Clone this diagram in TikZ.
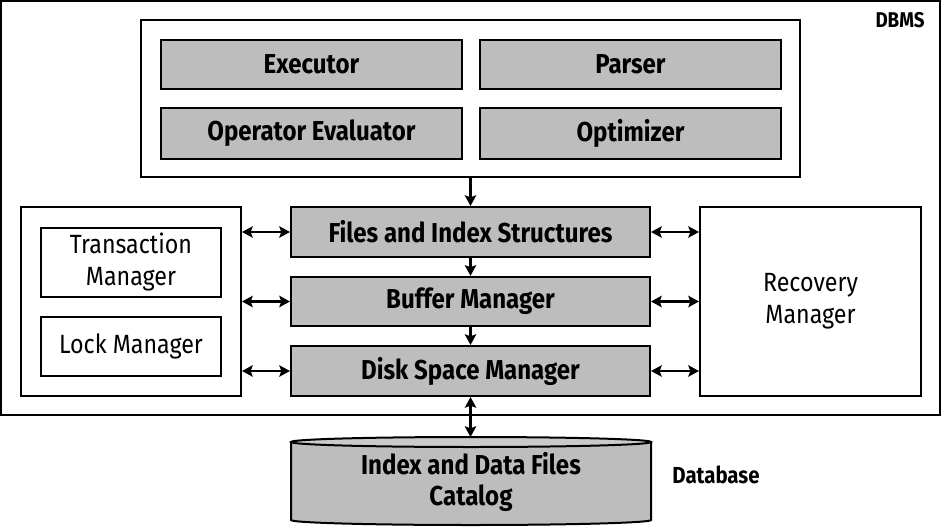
\documentclass[tikz,border=0pt]{standalone}
\usepackage{fontspec}
\setmainfont[FakeStretch=0.88]{Fira Sans}
\usetikzlibrary{arrows.meta}
\definecolor{boxgray}{HTML}{BDBDBD}
\begin{document}
\begin{tikzpicture}[x=0.75pt,y=-0.75pt,
  frame/.style={draw, line width=1.5pt, inner sep=0pt},
  graybox/.style={draw, line width=1.5pt, fill=boxgray, inner sep=0pt,
     font=\fontsize{20.5}{22}\selectfont\bfseries},
  whitebox/.style={draw, line width=1.5pt, fill=white, inner sep=0pt, align=center,
     font=\fontsize{19.8}{24}\selectfont},
  lbl/.style={inner sep=0pt, font=\fontsize{16}{18}\selectfont\bfseries},
  tip/.tip={Stealth[length=8pt,width=8.5pt,inset=1.5pt]},
  arr/.style={-tip, line width=1.8pt},
  darr/.style={tip-tip, line width=1.8pt}]
\useasboundingbox (0,0) rectangle (941,531);
% outer DBMS frame
\node[frame, minimum width=704.25pt, minimum height=310.5pt] (dbms) at (470.5,208) {};
\node[lbl] (dbmslbl) at (900,20) {DBMS};
% query processing box
\node[frame, minimum width=494.25pt, minimum height=117.75pt] (qp) at (470.5,98.5) {};
\node[graybox, minimum width=225.75pt, minimum height=37pt] (exec) at (311.5,64.5) {Executor};
\node[graybox, minimum width=225.75pt, minimum height=37pt] (parser) at (630.5,64.5) {Parser};
\node[graybox, minimum width=225.75pt, minimum height=38pt] (opeval) at (311.5,133.5) {Operator Evaluator};
\node[graybox, minimum width=225.75pt, minimum height=38pt] (optim) at (630.5,133.5) {Optimizer};
% central stack
\node[graybox, minimum width=269.25pt, minimum height=37.5pt] (files) at (470.5,232) {Files and Index Structures};
\node[graybox, minimum width=269.25pt, minimum height=37pt] (buffer) at (470.5,301.5) {Buffer Manager};
\node[graybox, minimum width=269.25pt, minimum height=37.5pt] (disk) at (470.5,371) {Disk Space Manager};
% left group
\node[frame, fill=white, minimum width=165pt, minimum height=141.75pt] (left) at (131,301.5) {};
\node[whitebox, minimum width=135pt, minimum height=51.75pt] (tm) at (131,262.5) {Transaction\\Manager};
\node[whitebox, minimum width=135pt, minimum height=44.25pt] (lm) at (131,346.5) {Lock Manager};
% right group
\node[whitebox, minimum width=165.75pt, minimum height=141.75pt] (rm) at (810.5,301.5) {Recovery\\Manager};
% database cylinder
\fill[boxgray] (291,442) -- (291,520) arc[start angle=180, end angle=360, x radius=135pt, y radius=3.75pt] -- (651,442) -- cycle;
\fill[boxgray!80] (471,442) ellipse [x radius=135pt, y radius=3.75pt];
\draw[line width=1.5pt] (291,442) -- (291,520) arc[start angle=180, end angle=360, x radius=135pt, y radius=3.75pt] -- (651,442);
\draw[line width=1.5pt] (471,442) ellipse [x radius=135pt, y radius=3.75pt];
\node[align=center, inner sep=0pt, font=\fontsize{20.5}{23}\selectfont\bfseries] (db) at (471,482) {Index and Data Files\\Catalog};
\coordinate (dbtop) at (470.5,437);
\node[lbl, font=\fontsize{17.4}{19}\selectfont\bfseries] (dblbl) at (716,475) {Database};
% vertical arrows
\draw[arr] (qp.south) -- (files.north);
\draw[arr] (files.south) -- (buffer.north);
\draw[arr] (buffer.south) -- (disk.north);
\draw[darr] (disk.south) -- (dbtop);
% horizontal arrows
\draw[darr] (left.east |- files.west) -- (files.west);
\draw[darr] (left.east |- buffer.west) -- (buffer.west);
\draw[darr] (left.east |- disk.west) -- (disk.west);
\draw[darr] (files.east) -- (rm.west |- files.east);
\draw[darr] (buffer.east) -- (rm.west |- buffer.east);
\draw[darr] (disk.east) -- (rm.west |- disk.east);
\end{tikzpicture}
\end{document}
